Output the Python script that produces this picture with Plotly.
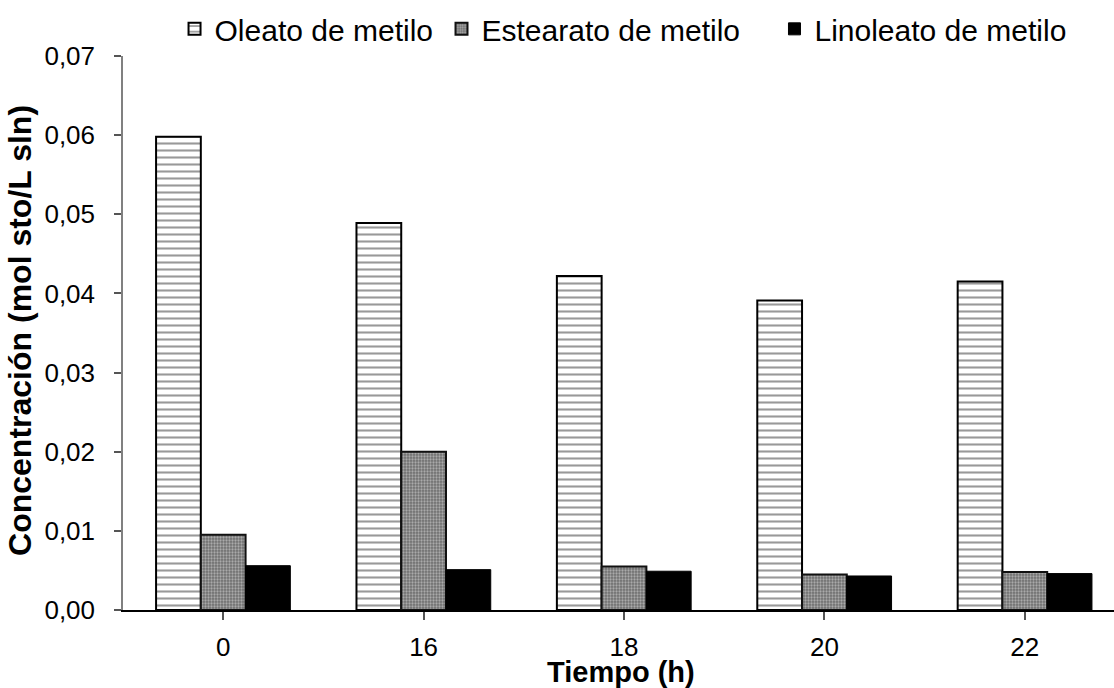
import plotly.graph_objects as go

categories = ["0", "16", "18", "20", "22"]
oleato = [0.0598, 0.0489, 0.0422, 0.0391, 0.0415]
estearato = [0.0095, 0.0200, 0.0055, 0.0045, 0.0048]
linoleato = [0.0056, 0.0051, 0.0049, 0.0043, 0.0046]
y_ticks = [0.00, 0.01, 0.02, 0.03, 0.04, 0.05, 0.06, 0.07]

FONT = "Liberation Sans, Arial, sans-serif"

fig = go.Figure()
fig.add_trace(go.Bar(
    name="Oleato de metilo", x=categories, y=oleato, legend="legend",
    marker=dict(color="white", line=dict(color="black", width=2),
                pattern=dict(shape="-", fgcolor="#333333", bgcolor="white",
                             size=7, solidity=0.3)),
))
fig.add_trace(go.Bar(
    name="Estearato de metilo", x=categories, y=estearato, legend="legend2",
    marker=dict(color="white", line=dict(color="#111111", width=2),
                pattern=dict(shape=".", fgcolor="#e6e6e6", bgcolor="#6e6e6e",
                             size=3, solidity=0.45)),
))
fig.add_trace(go.Bar(
    name="Linoleato de metilo", x=categories, y=linoleato, legend="legend3",
    marker=dict(color="black", line=dict(color="black", width=1)),
))

leg_common = dict(orientation="h", xanchor="left", y=1.049, yanchor="middle",
                  font=dict(size=30, family=FONT, color="black"),
                  bgcolor="rgba(0,0,0,0)", itemclick=False)

fig.update_layout(
    width=1114, height=688,
    margin=dict(l=123, r=0, t=56, b=78, pad=0),
    paper_bgcolor="white", plot_bgcolor="white",
    separators=",.",
    barmode="group", bargap=0.33, bargroupgap=0,
    font=dict(family=FONT, size=26, color="black"),
    showlegend=True,
    legend=dict(x=0.052, **leg_common),
    legend2=dict(x=0.3214, **leg_common),
    legend3=dict(x=0.6574, **leg_common),
    xaxis=dict(type="category", range=[-0.5, 4.445], showline=True,
               linecolor="black", linewidth=1.5, ticks="outside", ticklen=8,
               tickcolor="#555555", tickwidth=1.5, showgrid=False,
               tickmode="array", tickvals=categories, ticktext=categories,
               ticklabelstandoff=5, tickfont=dict(size=26),
               zeroline=False),
    yaxis=dict(range=[0, 0.07], tickvals=y_ticks, tickformat=".2f",
               showline=True, linecolor="#808080", linewidth=1.5,
               ticks="outside", ticklen=7, tickcolor="#555555", tickwidth=1.5,
               showgrid=False, zeroline=False, ticklabelstandoff=14,
               tickfont=dict(size=26)),
    annotations=[
        dict(text="<b>Tiempo (h)</b>", xref="paper", yref="paper",
             x=0.5025, y=-0.112, xanchor="center", yanchor="middle",
             showarrow=False, font=dict(size=29, family=FONT, color="black")),
        dict(text="<b>Concentración (mol sto/L sln)</b>", xref="paper", yref="paper",
             x=-0.104, y=0.5054, xanchor="center", yanchor="middle", textangle=-90,
             showarrow=False, font=dict(size=32, family=FONT, color="black")),
    ],
)

fig.write_html("out.html", config={"displayModeBar": False},
               post_script="document.body.style.margin='0';document.body.style.overflow='hidden';")
